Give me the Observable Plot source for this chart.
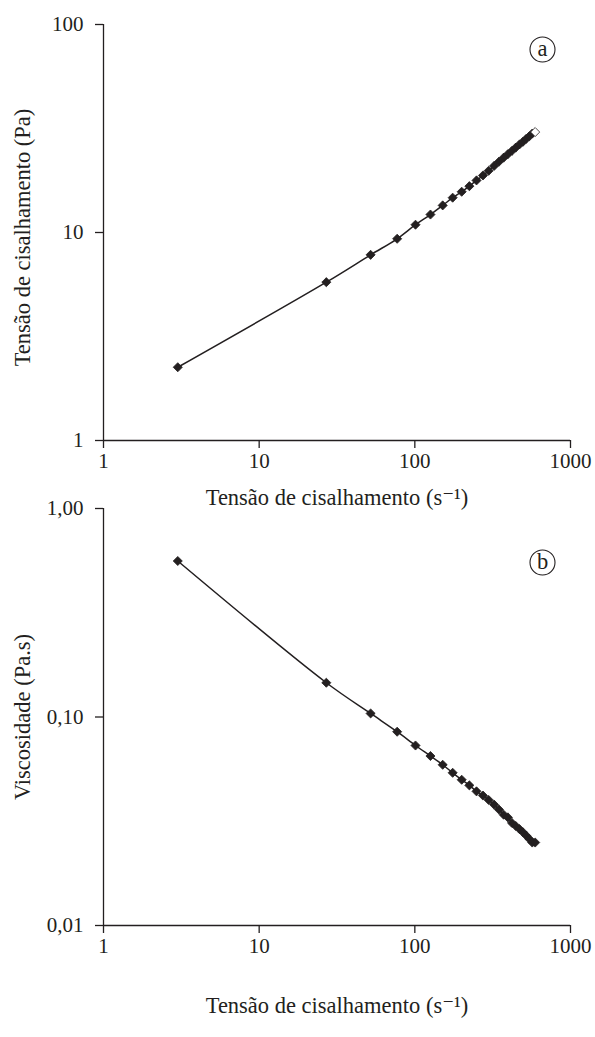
<!DOCTYPE html>
<html><head><meta charset="utf-8">
<script src="https://cdn.jsdelivr.net/npm/d3@7"></script>
<script src="https://cdn.jsdelivr.net/npm/@observablehq/plot@0.6"></script>
<style>
body{margin:0;background:#fff;}
#chart{width:595px;}
#chart svg{display:block;overflow:visible;}
</style></head><body><div id="chart"></div>
<script>
// shear rate (s^-1)
const shearRate = [3, 27, 52, 77, 101, 126, 151, 175, 200, 224, 249, 274, 298, 323, 347, 372, 396, 421, 445, 470, 495, 519, 544, 568, 593];
// panel a: shear stress (Pa)
const shearStress = [2.25, 5.77, 7.81, 9.33, 10.9, 12.2, 13.5, 14.7, 15.7, 16.7, 17.8, 18.8, 19.8, 20.9, 21.9, 22.9, 23.8, 24.7, 25.6, 26.5, 27.3, 28.2, 29.0, 29.9, 30.4];
// panel b: viscosity (Pa.s)
const viscosity = [0.56, 0.146, 0.104, 0.085, 0.073, 0.065, 0.059, 0.054, 0.050, 0.047, 0.044, 0.042, 0.040, 0.038, 0.036, 0.034, 0.033, 0.031, 0.030, 0.029, 0.028, 0.027, 0.026, 0.025, 0.025];

const xTicks = [1, 10, 100, 1000];
const stressTicks = [1, 10, 100];
const viscTicks = [0.01, 0.1, 1];
const viscTickLabels = ["0,01", "0,10", "1,00"];
const xLabel = "Tensão de cisalhamento (s⁻¹)";
const stressLabel = "Tensão de cisalhamento (Pa)";
const viscLabel = "Viscosidade (Pa.s)";
const panelTags = ["a", "b"];

const ink = "#231f20";
const font = "'Liberation Serif', 'DejaVu Serif', serif";
const tickFont = 21;
const labelFont = 22.5;

function panel({ys, yDomain, yTicks, yFormat, yLabel, tag, height, marginTop, marginBottom, tagDy, titleDy, yLabelDy, hollowLast}) {
  const data = shearRate.map((x, i) => ({x, y: ys[i], last: hollowLast && i === shearRate.length - 1}));
  return Plot.plot({
    width: 595,
    height,
    marginLeft: 103,
    marginRight: 25,
    marginTop,
    marginBottom,
    style: {fontFamily: font, fontSize: tickFont + "px", color: ink, background: "white"},
    x: {type: "log", domain: [1, 1000]},
    y: {type: "log", domain: yDomain},
    marks: [
      Plot.ruleX([1], {stroke: ink, strokeWidth: 1.3}),
      Plot.ruleY([yDomain[0]], {stroke: ink, strokeWidth: 1.3}),
      Plot.axisX(xTicks, {tickSize: 8, tickPadding: 5, tickFormat: d => String(d), label: null, stroke: ink, strokeWidth: 1.3, fill: ink, fontSize: tickFont, fontFamily: font}),
      Plot.axisY(yTicks, {tickSize: 8, tickPadding: 12, tickFormat: yFormat, label: null, stroke: ink, strokeWidth: 1.3, fill: ink, fontSize: tickFont, fontFamily: font}),
      Plot.line(data, {x: "x", y: "y", stroke: ink, strokeWidth: 1.5, curve: "catmull-rom"}),
      Plot.dot(data, {x: "x", y: "y", symbol: "diamond2", r: 4.1, fill: d => d.last ? "white" : ink, stroke: ink, strokeWidth: 0.8}),
      Plot.text([xLabel], {frameAnchor: "bottom", dy: titleDy, lineAnchor: "middle", textAnchor: "middle", fill: ink, fontSize: labelFont, fontFamily: font}),
      Plot.text([yLabel], {frameAnchor: "left", rotate: -90, dx: -81, dy: yLabelDy, lineAnchor: "middle", textAnchor: "middle", fill: ink, fontSize: labelFont, fontFamily: font}),
      Plot.dot([tag], {frameAnchor: "top-right", dx: -28, dy: tagDy, r: 12.5, stroke: ink, strokeWidth: 1.1, fill: "white"}),
      Plot.text([tag], {frameAnchor: "top-right", dx: -28, dy: tagDy - 1, text: d => d, lineAnchor: "middle", textAnchor: "middle", fill: ink, fontSize: labelFont, fontFamily: font})
    ]
  });
}

const chart = document.getElementById("chart");
chart.append(panel({
  ys: shearStress, yDomain: [1, 100], yTicks: stressTicks, yFormat: d => String(d),
  yLabel: stressLabel, tag: panelTags[0], height: 505, marginTop: 24, marginBottom: 65,
  tagDy: 25, titleDy: 57, yLabelDy: 5, hollowLast: true
}));
chart.append(panel({
  ys: viscosity, yDomain: [0.01, 1], yTicks: viscTicks, yFormat: d => viscTickLabels[viscTicks.indexOf(d)],
  yLabel: viscLabel, tag: panelTags[1], height: 532, marginTop: 3, marginBottom: 112,
  tagDy: 54, titleDy: 80, yLabelDy: 0, hollowLast: false
}));
</script></body></html>
